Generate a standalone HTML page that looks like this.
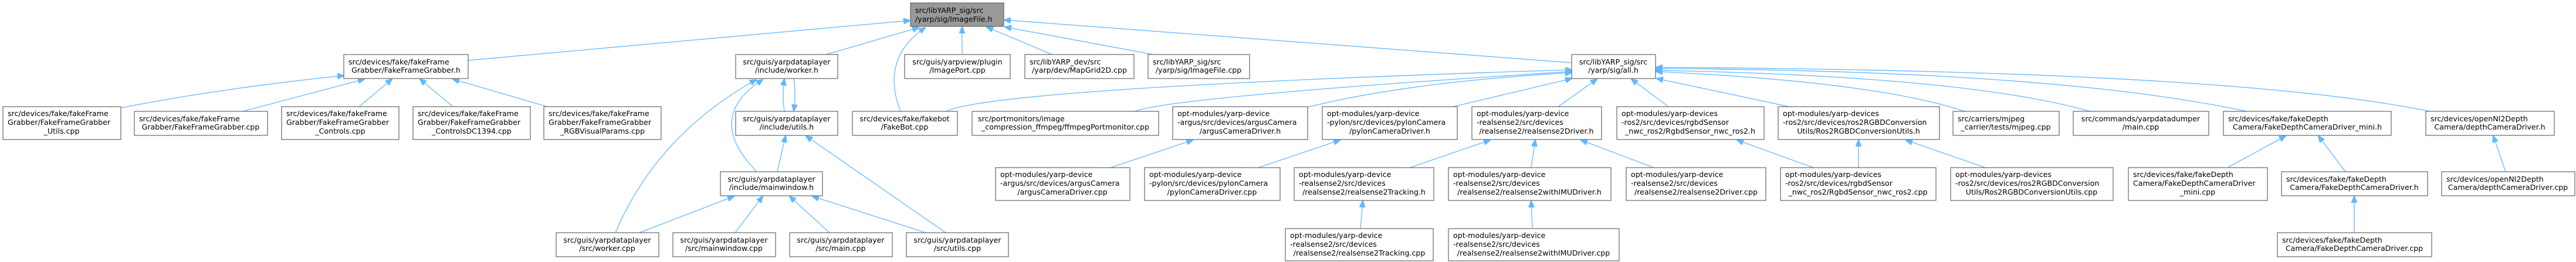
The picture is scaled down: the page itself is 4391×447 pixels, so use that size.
<!DOCTYPE html>
<html><head><meta charset="utf-8"><style>
html,body{margin:0;padding:0;background:#fff;width:4391px;height:447px;overflow:hidden}
svg{display:block}
text{font-family:"DejaVu Sans","Liberation Sans",sans-serif;font-size:12.6px;fill:#000}
rect{fill:#fff;stroke:#666;stroke-width:1.2}
path{fill:none;stroke:#63b8ff;stroke-width:1.3}
</style></head><body>
<svg width="4391" height="447" viewBox="0 0 4391 447" xmlns="http://www.w3.org/2000/svg">
<defs><marker id="a" markerWidth="12" markerHeight="10" refX="11" refY="5" orient="auto" markerUnits="userSpaceOnUse"><path d="M0,0 L12,5 L0,10 Z" style="fill:#63b8ff;stroke:#63b8ff"/></marker></defs>
<g marker-end="url(#a)">
<!-- to ImageFile.h -->
<path d="M798,103 L1551,35"/>
<path d="M1405,94 L1566,47"/>
<path d="M1535,190 Q1500,100 1577,47"/>
<path d="M1640,93 L1640,46"/>
<path d="M1793,93 L1682,46"/>
<path d="M1971,94 L1713,46"/>
<path d="M2679,107 L1712,34"/>
<!-- to FFG.h -->
<path d="M206,184 Q380,150 586,129"/>
<path d="M414,190 L621,135"/>
<path d="M612,182 L668,135"/>
<path d="M772,182 L716,135"/>
<path d="M933,182 L772,135"/>
<!-- yarpdataplayer -->
<path d="M1049,397 Q1120,230 1289,136"/>
<path d="M1090,397 L1251,335"/>
<path d="M1337,190 Q1333,160 1337,135"/>
<path d="M1353,134 Q1357,160 1353,189"/>
<path d="M1289,292 Q1200,200 1300,136"/>
<path d="M1325,292 L1339,232"/>
<path d="M1253,397 L1300,335"/>
<path d="M1414,397 L1346,335"/>
<path d="M1578,397 L1385,335"/>
<path d="M1612,397 L1374,232"/>
<!-- to all.h -->
<path d="M1612,190 Q1700,150 2679,119"/>
<path d="M1934,190 Q2000,165 2679,122"/>
<path d="M2228,183 Q2400,140 2679,124"/>
<path d="M2477,182 L2679,134"/>
<path d="M2656,182 L2722,135"/>
<path d="M2844,182 L2781,135"/>
<path d="M3050,182 L2824,134"/>
<path d="M3349,190 Q3200,140 2823,122"/>
<path d="M3563,190 Q3350,130 2823,120"/>
<path d="M3830,190 Q3500,120 2823,117"/>
<path d="M4142,190 Q3800,120 2823,115"/>
<!-- lower -->
<path d="M1893,286 L2033,239"/>
<path d="M2145,286 L2284,239"/>
<path d="M2403,286 L2540,239"/>
<path d="M2610,286 L2617,239"/>
<path d="M2819,286 L2695,239"/>
<path d="M3091,286 L2961,239"/>
<path d="M3168,286 L3168,239"/>
<path d="M3384,286 L3249,239"/>
<path d="M2319,390 L2323,343"/>
<path d="M2612,390 L2610,343"/>
<path d="M3797,286 L3896,232"/>
<path d="M3998,293 L3952,232"/>
<path d="M4013,397 L4013,335"/>
<path d="M4271,293 L4250,232"/>
</g>

<rect x="1552" y="5" width="159" height="40" style="fill:#999"/>
<text x="1560" y="22">src/libYARP_sig/src</text><text x="1560" y="37">/yarp/sig/ImageFile.h</text>

<rect x="586" y="93" width="212" height="41"/><text x="594" y="110">src/devices/fake/fakeFrame</text><text x="692" y="124" text-anchor="middle">Grabber/FakeFrameGrabber.h</text>
<rect x="1254" y="93" width="174" height="41"/><text x="1341" y="110" text-anchor="middle">src/guis/yarpdataplayer</text><text x="1341" y="124" text-anchor="middle">/include/worker.h</text>
<rect x="1542" y="93" width="180" height="41"/><text x="1632" y="110" text-anchor="middle">src/guis/yarpview/plugin</text><text x="1632" y="124" text-anchor="middle">/ImagePort.cpp</text>
<rect x="1747" y="93" width="186" height="41"/><text x="1755" y="110">src/libYARP_dev/src</text><text x="1840" y="124" text-anchor="middle">/yarp/dev/MapGrid2D.cpp</text>
<rect x="1957" y="93" width="173" height="41"/><text x="1965" y="110">src/libYARP_sig/src</text><text x="2043" y="124" text-anchor="middle">/yarp/sig/ImageFile.cpp</text>
<rect x="2679" y="93" width="143" height="41"/><text x="2750" y="110" text-anchor="middle">src/libYARP_sig/src</text><text x="2750" y="124" text-anchor="middle">/yarp/sig/all.h</text>

<rect x="5" y="182" width="201" height="56"/><text x="13" y="198">src/devices/fake/fakeFrame</text><text x="13" y="213">Grabber/FakeFrameGrabber</text><text x="105" y="228" text-anchor="middle">_Utils.cpp</text>
<rect x="229" y="190" width="227" height="41"/><text x="237" y="207">src/devices/fake/fakeFrame</text><text x="342" y="221" text-anchor="middle">Grabber/FakeFrameGrabber.cpp</text>
<rect x="480" y="182" width="200" height="56"/><text x="488" y="198">src/devices/fake/fakeFrame</text><text x="488" y="213">Grabber/FakeFrameGrabber</text><text x="580" y="228" text-anchor="middle">_Controls.cpp</text>
<rect x="704" y="182" width="200" height="56"/><text x="712" y="198">src/devices/fake/fakeFrame</text><text x="712" y="213">Grabber/FakeFrameGrabber</text><text x="804" y="228" text-anchor="middle">_ControlsDC1394.cpp</text>
<rect x="927" y="182" width="200" height="56"/><text x="935" y="198">src/devices/fake/fakeFrame</text><text x="935" y="213">Grabber/FakeFrameGrabber</text><text x="1027" y="228" text-anchor="middle">_RGBVisualParams.cpp</text>
<rect x="1254" y="190" width="174" height="41"/><text x="1341" y="207" text-anchor="middle">src/guis/yarpdataplayer</text><text x="1341" y="221" text-anchor="middle">/include/utils.h</text>
<rect x="1453" y="190" width="179" height="41"/><text x="1542" y="207" text-anchor="middle">src/devices/fake/fakebot</text><text x="1542" y="221" text-anchor="middle">/FakeBot.cpp</text>
<rect x="1657" y="190" width="318" height="41"/><text x="1667" y="207">src/portmonitors/image</text><text x="1816" y="221" text-anchor="middle">_compression_ffmpeg/ffmpegPortmonitor.cpp</text>
<rect x="1999" y="182" width="230" height="56"/><text x="2007" y="198">opt-modules/yarp-device</text><text x="2007" y="213">-argus/src/devices/argusCamera</text><text x="2114" y="228" text-anchor="middle">/argusCameraDriver.h</text>
<rect x="2254" y="182" width="230" height="56"/><text x="2262" y="198">opt-modules/yarp-device</text><text x="2262" y="213">-pylon/src/devices/pylonCamera</text><text x="2369" y="228" text-anchor="middle">/pylonCameraDriver.h</text>
<rect x="2509" y="182" width="221" height="56"/><text x="2517" y="198">opt-modules/yarp-device</text><text x="2517" y="213">-realsense2/src/devices</text><text x="2619" y="228" text-anchor="middle">/realsense2/realsense2Driver.h</text>
<rect x="2756" y="182" width="251" height="56"/><text x="2764" y="198">opt-modules/yarp-devices</text><text x="2764" y="213">-ros2/src/devices/rgbdSensor</text><text x="2881" y="228" text-anchor="middle">_nwc_ros2/RgbdSensor_nwc_ros2.h</text>
<rect x="3031" y="182" width="275" height="56"/><text x="3039" y="198">opt-modules/yarp-devices</text><text x="3039" y="213">-ros2/src/devices/ros2RGBDConversion</text><text x="3168" y="228" text-anchor="middle">Utils/Ros2RGBDConversionUtils.h</text>
<rect x="3329" y="190" width="181" height="41"/><text x="3337" y="207">src/carriers/mjpeg</text><text x="3419" y="221" text-anchor="middle">_carrier/tests/mjpeg.cpp</text>
<rect x="3534" y="190" width="231" height="41"/><text x="3649" y="207" text-anchor="middle">src/commands/yarpdatadumper</text><text x="3649" y="221" text-anchor="middle">/main.cpp</text>
<rect x="3790" y="190" width="286" height="41"/><text x="3798" y="207">src/devices/fake/fakeDepth</text><text x="3933" y="221" text-anchor="middle">Camera/FakeDepthCameraDriver_mini.h</text>
<rect x="4135" y="190" width="219" height="41"/><text x="4143" y="207">src/devices/openNI2Depth</text><text x="4244" y="221" text-anchor="middle">Camera/depthCameraDriver.h</text>

<rect x="1228" y="293" width="174" height="41"/><text x="1315" y="310" text-anchor="middle">src/guis/yarpdataplayer</text><text x="1315" y="324" text-anchor="middle">/include/mainwindow.h</text>
<rect x="1697" y="286" width="229" height="56"/><text x="1705" y="302">opt-modules/yarp-device</text><text x="1705" y="317">-argus/src/devices/argusCamera</text><text x="1811" y="332" text-anchor="middle">/argusCameraDriver.cpp</text>
<rect x="1951" y="286" width="231" height="56"/><text x="1959" y="302">opt-modules/yarp-device</text><text x="1959" y="317">-pylon/src/devices/pylonCamera</text><text x="2066" y="332" text-anchor="middle">/pylonCameraDriver.cpp</text>
<rect x="2206" y="286" width="238" height="56"/><text x="2214" y="302">opt-modules/yarp-device</text><text x="2214" y="317">-realsense2/src/devices</text><text x="2325" y="332" text-anchor="middle">/realsense2/realsense2Tracking.h</text>
<rect x="2469" y="286" width="277" height="56"/><text x="2477" y="302">opt-modules/yarp-device</text><text x="2477" y="317">-realsense2/src/devices</text><text x="2607" y="332" text-anchor="middle">/realsense2/realsense2withIMUDriver.h</text>
<rect x="2772" y="286" width="238" height="56"/><text x="2780" y="302">opt-modules/yarp-device</text><text x="2780" y="317">-realsense2/src/devices</text><text x="2891" y="332" text-anchor="middle">/realsense2/realsense2Driver.cpp</text>
<rect x="3035" y="286" width="265" height="56"/><text x="3043" y="302">opt-modules/yarp-devices</text><text x="3043" y="317">-ros2/src/devices/rgbdSensor</text><text x="3167" y="332" text-anchor="middle">_nwc_ros2/RgbdSensor_nwc_ros2.cpp</text>
<rect x="3325" y="286" width="277" height="56"/><text x="3333" y="302">opt-modules/yarp-devices</text><text x="3333" y="317">-ros2/src/devices/ros2RGBDConversion</text><text x="3463" y="332" text-anchor="middle">Utils/Ros2RGBDConversionUtils.cpp</text>
<rect x="3628" y="286" width="237" height="56"/><text x="3636" y="302">src/devices/fake/fakeDepth</text><text x="3636" y="317">Camera/FakeDepthCameraDriver</text><text x="3746" y="332" text-anchor="middle">_mini.cpp</text>
<rect x="3889" y="293" width="249" height="41"/><text x="3897" y="310">src/devices/fake/fakeDepth</text><text x="4013" y="324" text-anchor="middle">Camera/FakeDepthCameraDriver.h</text>
<rect x="4162" y="293" width="227" height="41"/><text x="4170" y="310">src/devices/openNI2Depth</text><text x="4275" y="324" text-anchor="middle">Camera/depthCameraDriver.cpp</text>

<rect x="948" y="397" width="175" height="41"/><text x="1035" y="414" text-anchor="middle">src/guis/yarpdataplayer</text><text x="1035" y="428" text-anchor="middle">/src/worker.cpp</text>
<rect x="1147" y="397" width="175" height="41"/><text x="1234" y="414" text-anchor="middle">src/guis/yarpdataplayer</text><text x="1234" y="428" text-anchor="middle">/src/mainwindow.cpp</text>
<rect x="1346" y="397" width="175" height="41"/><text x="1433" y="414" text-anchor="middle">src/guis/yarpdataplayer</text><text x="1433" y="428" text-anchor="middle">/src/main.cpp</text>
<rect x="1545" y="397" width="174" height="41"/><text x="1632" y="414" text-anchor="middle">src/guis/yarpdataplayer</text><text x="1632" y="428" text-anchor="middle">/src/utils.cpp</text>
<rect x="2191" y="390" width="252" height="55"/><text x="2199" y="406">opt-modules/yarp-device</text><text x="2199" y="421">-realsense2/src/devices</text><text x="2317" y="436" text-anchor="middle">/realsense2/realsense2Tracking.cpp</text>
<rect x="2469" y="390" width="291" height="55"/><text x="2477" y="406">opt-modules/yarp-device</text><text x="2477" y="421">-realsense2/src/devices</text><text x="2614" y="436" text-anchor="middle">/realsense2/realsense2withIMUDriver.cpp</text>
<rect x="3882" y="397" width="263" height="41"/><text x="3890" y="414">src/devices/fake/fakeDepth</text><text x="4013" y="428" text-anchor="middle">Camera/FakeDepthCameraDriver.cpp</text>
</svg>
</body></html>
